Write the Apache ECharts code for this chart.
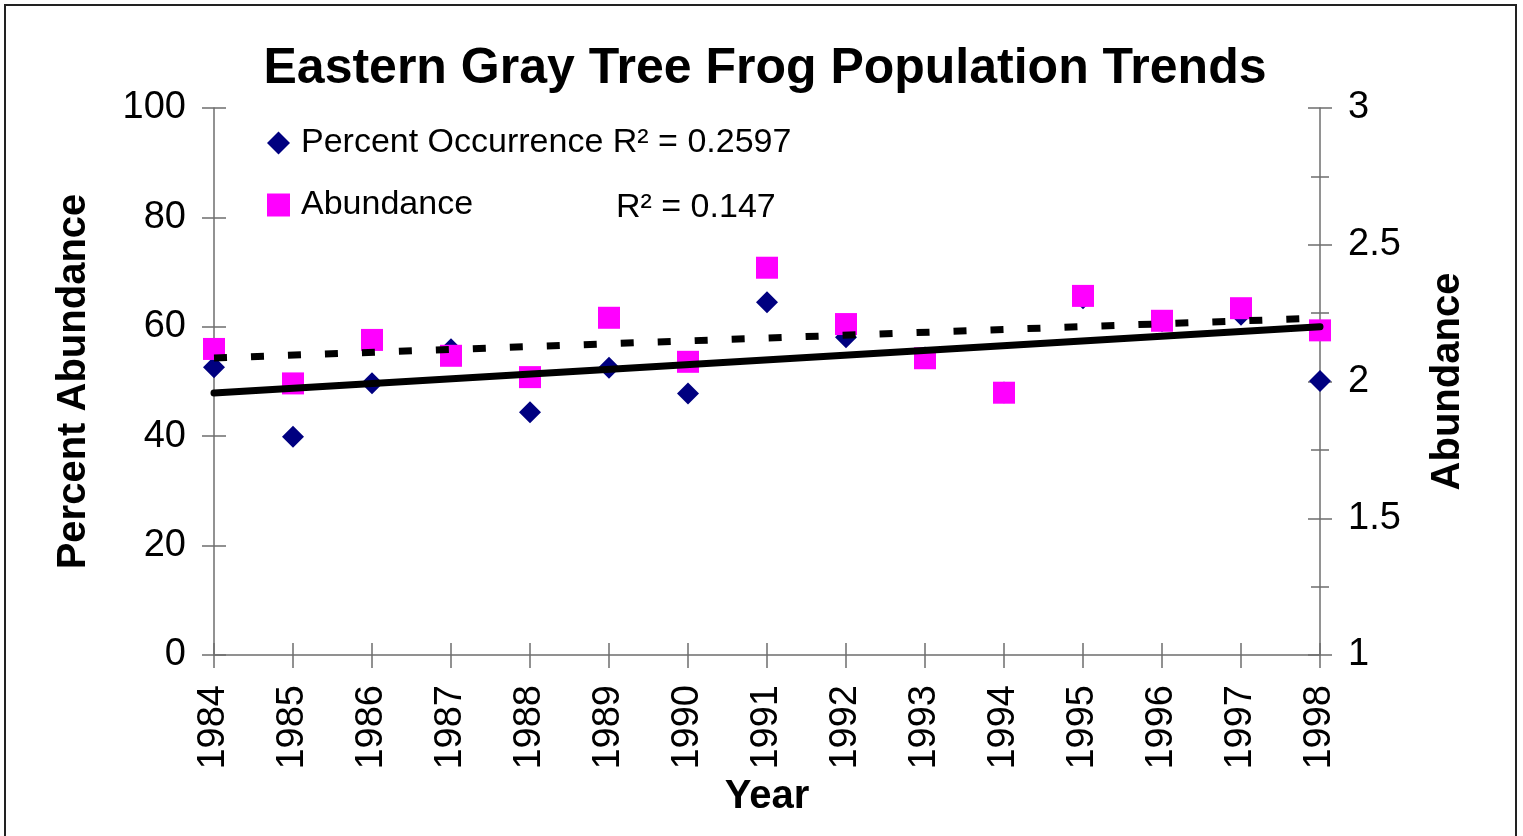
<!DOCTYPE html>
<html>
<head>
<meta charset="utf-8">
<script src="https://cdn.jsdelivr.net/npm/echarts@6/dist/echarts.min.js"></script>
<style>
  html, body { margin: 0; padding: 0; background: #fff; }
  #chart { width: 1523px; height: 836px; }
</style>
</head>
<body>
<div id="chart"></div>
<script>
// values
const years = [1984, 1985, 1986, 1987, 1988, 1989, 1990, 1991, 1992, 1993, 1994, 1995, 1996, 1997, 1998];
const percentOccurrence = [52.6, 39.9, 49.7, 55.9, 44.4, 52.5, 47.8, 64.5, 58.1, 54.4, 48.0, 65.2, 61.0, 62.2, 50.1];
const abundance = [2.119, 1.993, 2.152, 2.094, 2.016, 2.233, 2.072, 2.416, 2.210, 2.085, 1.959, 2.313, 2.222, 2.268, 2.187];
// trendline end points (as drawn)
const occTrend = [[1984, 47.9], [1998, 60.0]];
const abundTrend = [[1984, 2.086], [1998, 2.232]];

const FONT = "'Liberation Sans', Arial, sans-serif";
const AXIS_GRAY = "#6e6e6e";

const pair = (xs, ys) => xs.map((x, i) => [x, ys[i]]);

// base axis settings; duplicates are used so ticks cross the axis line
const yBase = (pos, min, max, interval, inside, labels) => ({
  type: "value",
  position: pos,
  min, max, interval,
  axisLine: { show: true, lineStyle: { color: AXIS_GRAY, width: 1.5 } },
  axisTick: { show: true, inside, length: 12, lineStyle: { color: AXIS_GRAY, width: 1.5 } },
  axisLabel: { show: labels, fontFamily: FONT, fontSize: 38, color: "#000", margin: 28 },
  splitLine: { show: false },
});

const option = {
  animation: false,
  backgroundColor: "#fff",
  title: {
    text: "Eastern Gray Tree Frog Population Trends",
    left: 760, top: 39, textAlign: "center",
    textStyle: { fontFamily: FONT, fontSize: 50, fontWeight: "bold", color: "#000" },
  },
  legend: {
    data: ["Percent Occurrence", "Abundance"],
    orient: "vertical",
    left: 262, top: 121,
    itemWidth: 23, itemHeight: 23,
    itemGap: 28,
    textStyle: {
      fontFamily: FONT, fontSize: 34, color: "#000", padding: [0, 0, 0, 6],
      rich: {
        a: { fontFamily: FONT, fontSize: 34, color: "#000", width: 315 },
        b: { fontFamily: FONT, fontSize: 34, color: "#000", padding: [6, 0, 0, 0] },
      },
    },
    formatter: name => name === "Abundance"
      ? "{a|Abundance}{b|R² = 0.147}"
      : "Percent Occurrence R² = 0.2597",
  },
  grid: { left: 214, right: 203, top: 108, bottom: 181 },
  xAxis: [
    {
      type: "value",
      min: 1984, max: 1998, interval: 1,
      name: "Year",
      nameLocation: "middle",
      nameGap: 122,
      nameTextStyle: { fontFamily: FONT, fontSize: 40, fontWeight: "bold", color: "#000" },
      axisLine: { show: true, lineStyle: { color: AXIS_GRAY, width: 1.5 } },
      axisTick: { show: true, length: 13, lineStyle: { color: AXIS_GRAY, width: 1.5 } },
      axisLabel: {
        rotate: 90, margin: 30, fontFamily: FONT, fontSize: 38, color: "#000",
        formatter: v => String(v),
      },
      splitLine: { show: false },
    },
    {
      type: "value",
      min: 1984, max: 1998, interval: 1,
      position: "bottom",
      axisLine: { show: false },
      axisTick: { show: true, inside: true, length: 12, lineStyle: { color: AXIS_GRAY, width: 1.5 } },
      axisLabel: { show: false },
      splitLine: { show: false },
    },
  ],
  yAxis: [
    Object.assign(yBase("left", 0, 100, 20, false, true), {
      name: "Percent Abundance",
      nameLocation: "middle",
      nameGap: 120,
      nameTextStyle: { fontFamily: FONT, fontSize: 40, fontWeight: "bold", color: "#000" },
    }),
    Object.assign(yBase("right", 1, 3, 0.5, false, true), {
      name: "Abundance",
      nameLocation: "middle",
      nameGap: 108,
      nameRotate: 90,
      nameTextStyle: { fontFamily: FONT, fontSize: 40, fontWeight: "bold", color: "#000" },
      minorTick: { show: true, splitNumber: 2, length: 9, lineStyle: { color: AXIS_GRAY, width: 1.5 } },
    }),
    Object.assign(yBase("left", 0, 100, 20, true, false), { axisLine: { show: false } }),
    Object.assign(yBase("right", 1, 3, 0.5, true, false), {
      axisLine: { show: false },
      minorTick: { show: true, splitNumber: 2, length: 9, lineStyle: { color: AXIS_GRAY, width: 1.5 } },
    }),
  ],
  series: [
    {
      name: "Percent Occurrence",
      type: "scatter",
      yAxisIndex: 0,
      symbol: "diamond",
      symbolSize: [22, 22],
      itemStyle: { color: "#000080", opacity: 1 },
      data: pair(years, percentOccurrence),
      z: 2,
    },
    {
      name: "Abundance",
      type: "scatter",
      yAxisIndex: 1,
      symbol: "rect",
      symbolSize: 22,
      itemStyle: { color: "#ff00ff", opacity: 1 },
      data: pair(years, abundance),
      z: 3,
    },
    {
      name: "Occurrence trend",
      type: "line",
      yAxisIndex: 0,
      symbol: "none",
      lineStyle: { color: "#000", width: 7, cap: "round" },
      data: occTrend,
      z: 4,
    },
    {
      name: "Abundance trend",
      type: "line",
      yAxisIndex: 1,
      symbol: "none",
      lineStyle: { color: "#000", width: 7, type: [13, 24], cap: "butt" },
      data: abundTrend,
      z: 4,
    },
  ],
  graphic: [
    {
      type: "rect",
      shape: { x: 5, y: 5, width: 1511, height: 840 },
      style: { fill: "none", stroke: "#222", lineWidth: 2 },
      silent: true,
    },
  ],
};

const myChart = echarts.init(document.getElementById("chart"));
myChart.setOption(option);
</script>
</body>
</html>
